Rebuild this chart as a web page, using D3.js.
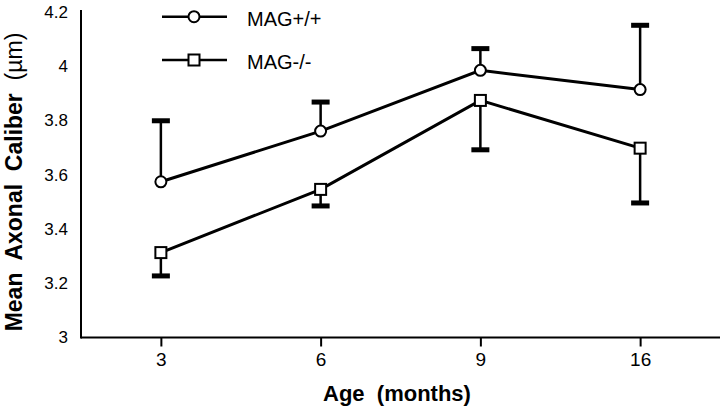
<!DOCTYPE html>
<html>
<head>
<meta charset="utf-8">
<script src="https://cdn.jsdelivr.net/npm/d3@7"></script>
<style>
  html, body { margin: 0; padding: 0; background: #fff; }
  svg { display: block; font-family: "Liberation Sans", Arial, Helvetica, sans-serif; }
</style>
</head>
<body>
<svg id="chart" width="720" height="410"></svg>
<script>
// ---- data ----
const ages = ["3", "6", "9", "16"];
const wildMean = [3.574, 3.761, 3.985, 3.914];
const wildUpper = [3.799, 3.868, 4.065, 4.151];
const knockMean = [3.313, 3.546, 3.874, 3.698];
const knockLower = [3.227, 3.485, 3.692, 3.496];
const yTicks = [3, 3.2, 3.4, 3.6, 3.8, 4, 4.2];
const seriesNames = ["MAG+/+", "MAG-/-"];

const svg = d3.select("#chart");
const x = d3.scalePoint().domain(ages).range([81, 720]).padding(0.5);
const y = d3.scaleLinear().domain([3, 4.2]).range([337.5, 12]);

// x axis
const xAxis = svg.append("g").attr("transform", "translate(0,337.5)")
  .call(d3.axisBottom(x).tickSize(9).tickSizeOuter(0).tickPadding(6));
xAxis.select(".domain").attr("stroke", "#000").attr("stroke-width", 2)
  .attr("d", "M81,0H720");
xAxis.selectAll(".tick line").attr("stroke", "#000").attr("stroke-width", 2);
xAxis.selectAll(".tick text").attr("fill", "#000").attr("font-size", 19)
  .attr("font-family", "'Liberation Sans', Arial, sans-serif");

// y axis
const yAxis = svg.append("g").attr("transform", "translate(81,0)")
  .call(d3.axisLeft(y).tickValues(yTicks).tickSize(0).tickSizeOuter(0).tickPadding(13)
    .tickFormat(d => String(+d.toFixed(1))));
yAxis.select(".domain").attr("stroke", "#000").attr("stroke-width", 2)
  .attr("d", "M0,10V338.5");
yAxis.selectAll(".tick text").attr("fill", "#000").attr("font-size", 17)
  .attr("font-family", "'Liberation Sans', Arial, sans-serif");

// axis titles
svg.append("text")
  .attr("x", 397).attr("y", 401)
  .attr("text-anchor", "middle")
  .attr("font-size", 22).attr("font-weight", "bold")
  .attr("xml:space", "preserve").style("white-space", "pre")
  .text("Age  (months)");

const yt = svg.append("text")
  .attr("transform", "translate(22,182) rotate(-90)")
  .attr("text-anchor", "middle")
  .attr("font-size", 23).attr("font-weight", "bold")
  .style("white-space", "pre");
yt.append("tspan").text("Mean  Axonal  Caliber  ");
yt.append("tspan").attr("font-weight", "normal").text("(\u00b5m)");

const capW = 18, capH = 5;

// error bars: MAG+/+ upward
ages.forEach((a, i) => {
  svg.append("line")
    .attr("x1", x(a)).attr("x2", x(a))
    .attr("y1", y(wildMean[i])).attr("y2", y(wildUpper[i]))
    .attr("stroke", "#000").attr("stroke-width", 2.5);
  svg.append("rect")
    .attr("x", x(a) - capW / 2).attr("y", y(wildUpper[i]) - capH / 2)
    .attr("width", capW).attr("height", capH).attr("fill", "#000");
  svg.append("line")
    .attr("x1", x(a)).attr("x2", x(a))
    .attr("y1", y(knockMean[i])).attr("y2", y(knockLower[i]))
    .attr("stroke", "#000").attr("stroke-width", 2.5);
  svg.append("rect")
    .attr("x", x(a) - capW / 2).attr("y", y(knockLower[i]) - capH / 2)
    .attr("width", capW).attr("height", capH).attr("fill", "#000");
});

// lines
const line = d3.line().x((d, i) => x(ages[i])).y(d => y(d));
svg.append("path").datum(wildMean).attr("d", line)
  .attr("fill", "none").attr("stroke", "#000").attr("stroke-width", 3);
svg.append("path").datum(knockMean).attr("d", line)
  .attr("fill", "none").attr("stroke", "#000").attr("stroke-width", 3);

// markers
svg.selectAll(".wm").data(wildMean).enter().append("circle")
  .attr("cx", (d, i) => x(ages[i])).attr("cy", d => y(d)).attr("r", 5.5)
  .attr("fill", "#fff").attr("stroke", "#000").attr("stroke-width", 2);
svg.selectAll(".km").data(knockMean).enter().append("rect")
  .attr("x", (d, i) => x(ages[i]) - 5.5).attr("y", d => y(d) - 5.5)
  .attr("width", 11).attr("height", 11)
  .attr("fill", "#fff").attr("stroke", "#000").attr("stroke-width", 2);

// legend
const legY = [16.7, 60];
legY.forEach((ly, i) => {
  svg.append("line").attr("x1", 162).attr("x2", 227).attr("y1", ly).attr("y2", ly)
    .attr("stroke", "#000").attr("stroke-width", 2.5);
  if (i === 0) {
    svg.append("circle").attr("cx", 194).attr("cy", ly).attr("r", 5.5)
      .attr("fill", "#fff").attr("stroke", "#000").attr("stroke-width", 2);
  } else {
    svg.append("rect").attr("x", 194 - 5.5).attr("y", ly - 5.5).attr("width", 11).attr("height", 11)
      .attr("fill", "#fff").attr("stroke", "#000").attr("stroke-width", 2);
  }
  svg.append("text").attr("x", 247).attr("y", ly + 9)
    .attr("font-size", 20).attr("fill", "#000").text(seriesNames[i]);
});
</script>
</body>
</html>
